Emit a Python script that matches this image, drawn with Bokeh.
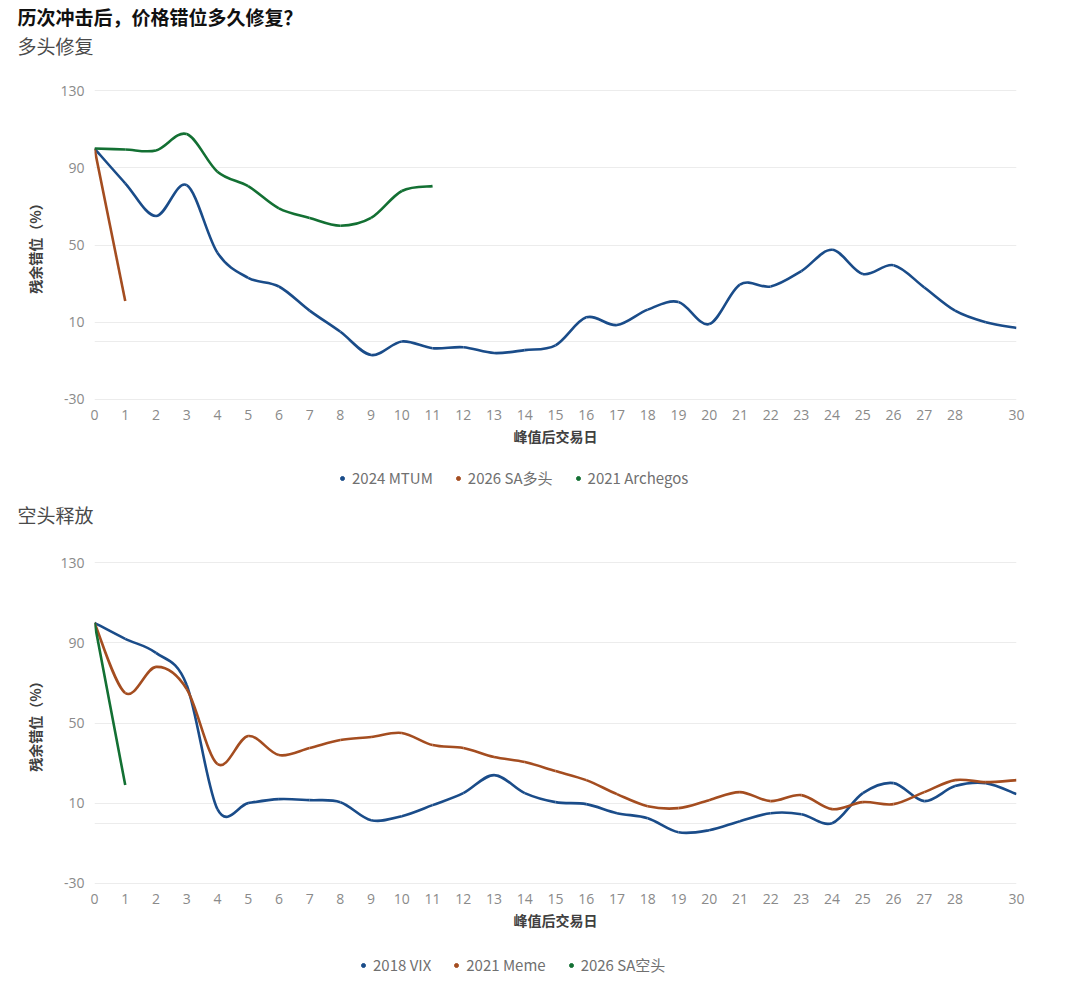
import numpy as np
from bokeh.plotting import figure
from bokeh.models import (Range1d, FixedTicker, Title, Legend, LegendItem,
                          ColumnDataSource, PrintfTickFormatter)
from bokeh.layouts import column
from bokeh.embed import file_html
from bokeh.resources import INLINE

# ---------------- data ----------------
days = list(range(31))
x_tick_values = list(range(29)) + [30]
y_tick_values = [-30, 10, 50, 90, 130]
grid_values = [-30, 0, 10, 50, 90, 130]

main_title = "历次冲击后，价格错位多久修复？"
top_subtitle = "多头修复"
bottom_subtitle = "空头释放"
x_title = "峰值后交易日"
y_title = "残余错位（%）"

top_names = ["2024 MTUM", "2026 SA多头", "2021 Archegos"]
mtum_2024 = [100, 82, 65, 81, 46, 33, 28.5, 16, 5, -7, 0, -3.5, -3, -6, -4.5,
             -2, 12.5, 8.5, 16.5, 20.5, 9, 29.5, 28.5, 36.5, 47.5, 35, 39.5,
             28, 16, 10, 7]
sa_long_2026 = [100, 21]
archegos_2021 = [100, 99.5, 99, 107.5, 88, 80.5, 69, 64, 60, 64, 78, 80.5]

bottom_names = ["2018 VIX", "2021 Meme", "2026 SA空头"]
vix_2018 = [100, 92, 85, 69, 7, 10, 12, 11.5, 10.5, 1.5, 3.5, 9, 15, 24, 15,
            10.5, 9.5, 5, 2.5, -4.5, -3.5, 1, 5, 4.5, 0, 15, 20, 11, 18.5,
            20, 14.5]
meme_2021 = [100, 65, 78, 67, 29.5, 43.5, 34, 37.5, 41.5, 43, 45, 39, 37.5,
             33, 30.5, 26, 21.5, 14.5, 8.5, 7.5, 11.5, 15.5, 11, 14, 7, 10.5,
             9.5, 15.5, 21.5, 20.5, 21.5]
sa_short_2026 = [100, 19]

colors = ["#1a4c89", "#a44d20", "#137033"]

CJK = "Noto Sans CJK SC"
LEFT = 94
RIGHT = 30
W = 1046


def smooth_source(ys):
    """Bezier segments (Catmull-Rom) passing through every data point."""
    xs = np.array(days[:len(ys)], dtype=float)
    ys = np.array(ys, dtype=float)
    xp = np.concatenate([[xs[0]], xs, [xs[-1]]])
    yp = np.concatenate([[ys[0]], ys, [ys[-1]]])
    n = len(xs)
    d = dict(x0=[], y0=[], x1=[], y1=[], cx0=[], cy0=[], cx1=[], cy1=[])
    for i in range(n - 1):
        x0, y0 = xp[i], yp[i]
        x1, y1 = xp[i + 1], yp[i + 1]
        x2, y2 = xp[i + 2], yp[i + 2]
        x3, y3 = xp[i + 3], yp[i + 3]
        d["x0"].append(x1); d["y0"].append(y1)
        d["x1"].append(x2); d["y1"].append(y2)
        d["cx0"].append(x1 + (x2 - x0) / 6.0); d["cy0"].append(y1 + (y2 - y0) / 6.0)
        d["cx1"].append(x2 - (x3 - x1) / 6.0); d["cy1"].append(y2 - (y3 - y1) / 6.0)
    return ColumnDataSource(d)


def add_title(p, txt, style, color, place="above"):
    t = Title(text=txt, text_font=CJK, text_font_size="19px",
              text_font_style=style, text_color=color, align="left",
              standoff=0, offset=-(LEFT - 17))
    p.add_layout(t, place)


def blank(height):
    h = figure(width=W, height=height, x_range=Range1d(0, 1),
               y_range=Range1d(0, 1), x_axis_type=None, y_axis_type=None,
               output_backend="svg", toolbar_location=None,
               min_border_left=LEFT, min_border_right=RIGHT,
               min_border_top=0, min_border_bottom=0)
    h.outline_line_color = None
    h.xgrid.visible = False
    h.ygrid.visible = False
    return h


def make_chart(series, height, top, bottom):
    p = figure(width=W, height=height,
               x_range=Range1d(0, 30), y_range=Range1d(-30.6, 130.6),
               output_backend="svg", toolbar_location=None,
               min_border_left=LEFT, min_border_right=RIGHT,
               min_border_top=top, min_border_bottom=bottom)
    p.outline_line_color = None
    p.background_fill_color = "white"
    p.border_fill_color = "white"

    p.xgrid.visible = False
    p.ygrid.ticker = FixedTicker(ticks=grid_values)
    p.ygrid.grid_line_color = "#ececec"
    p.ygrid.grid_line_width = 1

    for ax in (p.xaxis, p.yaxis):
        ax.axis_line_color = None
        ax.major_tick_line_color = None
        ax.minor_tick_line_color = None
        ax.major_label_text_color = "#8a8a8a"
        ax.major_label_text_font = "Open Sans"
        ax.major_label_text_font_size = "14px"
        ax.axis_label_text_font = CJK
        ax.axis_label_text_font_size = "14px"
        ax.axis_label_text_font_style = "bold"
        ax.axis_label_text_color = "#404040"

    p.xaxis.ticker = FixedTicker(ticks=x_tick_values)
    p.yaxis.ticker = FixedTicker(ticks=y_tick_values)
    p.yaxis.formatter = PrintfTickFormatter(format="%d")
    p.xaxis.axis_label = x_title
    p.yaxis.axis_label = y_title
    p.xaxis.major_label_standoff = 3
    p.xaxis.axis_label_standoff = 3
    p.yaxis.major_label_standoff = 4
    p.yaxis.axis_label_standoff = 12

    for ys, c in zip(series, colors):
        src = smooth_source(ys)
        p.bezier(x0="x0", y0="y0", x1="x1", y1="y1", cx0="cx0", cy0="cy0",
                 cx1="cx1", cy1="cy1", source=src, line_color=c,
                 line_width=2.6)
    return p


def make_legend(q, names, loc):
    items = []
    for name, c in zip(names, colors):
        dot = q.scatter(x=[np.nan], y=[np.nan], marker="circle", size=9,
                        fill_color=c, line_color=c)
        items.append(LegendItem(label=name, renderers=[dot]))
    legend = Legend(items=items, orientation="horizontal", location=loc,
                    border_line_color=None, background_fill_alpha=0,
                    label_text_font=CJK, label_text_font_size="15px",
                    label_text_color="#707070", glyph_width=10,
                    glyph_height=10, label_standoff=5, spacing=20,
                    padding=0, margin=0)
    q.add_layout(legend, "center")
    return q


# header: main title on top, first subtitle under it
h1 = blank(64)
add_title(h1, top_subtitle, "normal", "#4a4a4a")
add_title(h1, main_title, "bold", "#111111")

p1 = make_chart([mtum_2024, sa_long_2026, archegos_2021],
                height=25 + 311 + 50, top=25, bottom=50)

# legend of the first chart, with the second subtitle beneath it
l1 = blank(77)
make_legend(l1, top_names, (243, 10))
add_title(l1, bottom_subtitle, "normal", "#4a4a4a", place="below")

p2 = make_chart([vix_2018, meme_2021, sa_short_2026],
                height=34 + 323 + 54, top=34, bottom=54)
l2 = make_legend(blank(37), bottom_names, (264, 0))

layout = column(h1, p1, l1, p2, l2, spacing=0)
open("out.html", "w").write(file_html(layout, INLINE))
